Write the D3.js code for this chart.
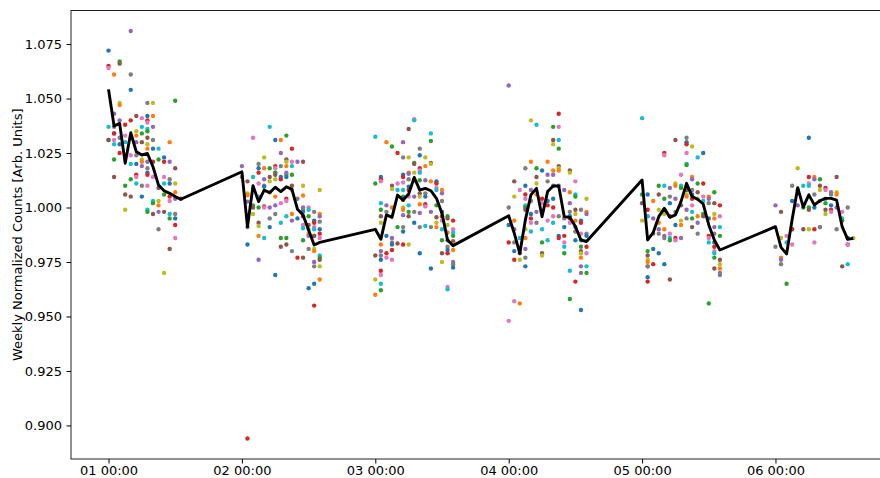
<!DOCTYPE html>
<html>
<head>
<meta charset="utf-8">
<script src="https://cdn.jsdelivr.net/npm/d3@7"></script>
<style>
  body { margin: 0; background: #fff; }
  svg text { font-family: "DejaVu Sans", sans-serif; }
</style>
</head>
<body>
<div id="chart"></div>
<script>
// ---------- data ---------- //
var days = [1, 2, 3, 4, 5, 6];
var hours = [0, 1, 2, 3, 4, 5, 6, 7, 8, 9, 10, 11, 12, 13, 14];
var yTicks = [0.900, 0.925, 0.950, 0.975, 1.000, 1.025, 1.050, 1.075];

// black line: mean per hour, one list per day
var meanDay1 = [1.0542, 1.0374, 1.0386, 1.0203, 1.0343, 1.0256, 1.0241, 1.0248, 1.0187, 1.0103, 1.0077, 1.0065, 1.0050, 1.0038];
var meanDay2 = [1.0164, 0.9912, 1.0100, 1.0027, 1.0080, 1.0068, 1.0093, 1.0073, 1.0095, 1.0083, 0.9992, 0.9966, 0.9897, 0.9828, 0.9840];
var meanDay3 = [0.9900, 0.9854, 0.9966, 0.9955, 1.0057, 1.0034, 1.0062, 1.0138, 1.0080, 1.0088, 1.0077, 1.0042, 0.9973, 0.9851, 0.9825];
var meanDay4 = [0.9962, 0.9882, 0.9790, 0.9943, 1.0058, 1.0088, 0.9958, 1.0073, 1.0099, 1.0099, 0.9958, 0.9955, 0.9913, 0.9851, 0.9844];
var meanDay5 = [1.0126, 0.9851, 0.9885, 0.9958, 0.9996, 0.9955, 0.9966, 1.0027, 1.0111, 1.0050, 1.0038, 1.0016, 0.9920, 0.9851, 0.9805];
var meanDay6 = [0.9912, 0.9817, 0.9787, 0.9945, 1.0091, 1.0002, 1.0058, 1.0012, 1.0031, 1.0042, 1.0042, 1.0034, 0.9912, 0.9854, 0.9859];

// weekly points: one list per hour, per day
var weeksDay1 = [
  [1.072, 1.065, 1.064, 1.037, 1.031, 1.031],
  [1.061, 1.043, 1.037, 1.034, 1.034, 1.031, 1.029, 1.022, 1.014],
  [1.067, 1.066, 1.048, 1.047, 1.040, 1.032, 1.029, 1.025],
  [1.038, 1.033, 1.030, 1.010, 1.006, 0.999],
  [1.081, 1.061, 1.054, 1.040, 1.024, 1.020, 1.013, 1.005],
  [1.042, 1.035, 1.033, 1.030, 1.024, 1.020, 1.015, 1.014, 1.011],
  [1.041, 1.037, 1.034, 1.030, 1.022, 1.021, 1.019, 1.010, 1.005],
  [1.048, 1.042, 1.040, 1.039, 1.036, 1.035, 1.032, 1.029, 1.027, 1.021, 1.018, 1.016, 1.015, 1.010, 0.999, 0.998],
  [1.048, 1.042, 1.037, 1.031, 1.027, 1.021, 1.014, 1.003, 1.002, 0.997],
  [1.027, 1.022, 1.009, 1.003, 1.001, 0.998, 0.990],
  [1.023, 1.021, 1.014, 1.011, 1.006, 0.998, 0.970],
  [1.030, 1.021, 1.013, 1.011, 1.005, 1.003, 0.997, 0.995, 0.981],
  [1.049, 1.018, 1.011, 1.007, 1.004, 0.997, 0.995, 0.992, 0.986],
  [1.004]
];
var weeksDay2 = [
  [1.019, 1.014],
  [1.012, 1.0065, 1.0056, 1.0027, 0.991, 0.983, 0.894],
  [1.032, 1.014, 1.001, 1.000, 0.997],
  [1.020, 1.018, 1.016, 1.011, 1.005, 1.000, 0.993, 0.9915, 0.987, 0.976],
  [1.023, 1.018, 1.013, 1.010, 1.0096, 1.0005, 1.000, 0.986],
  [1.037, 1.018, 1.014, 1.012, 1.007, 1.000, 0.995, 0.991],
  [1.031, 1.019, 1.018, 1.016, 1.016, 1.015, 1.013, 1.005, 1.001, 0.997, 0.969],
  [1.031, 1.025, 1.019, 1.014, 1.013, 1.002, 0.993, 0.986, 0.982],
  [1.033, 1.022, 1.021, 1.019, 1.016, 1.015, 1.014, 1.004, 1.003, 0.996, 0.986, 0.983],
  [1.027, 1.021, 1.019, 1.015, 1.010, 1.008, 0.997, 0.994, 0.980],
  [1.021, 1.004, 0.995, 0.977],
  [1.021, 1.010, 1.0055, 1.000, 0.999, 0.998, 0.996, 0.992, 0.9905, 0.985, 0.977],
  [1.000, 0.999, 0.996, 0.992, 0.990, 0.988, 0.987, 0.981, 0.963],
  [0.998, 0.994, 0.993, 0.991, 0.990, 0.987, 0.987, 0.981, 0.980, 0.975, 0.973, 0.965, 0.955],
  [1.008, 0.997, 0.996, 0.9935, 0.990, 0.988, 0.986, 0.978, 0.977, 0.976, 0.973, 0.967]
];
var weeksDay3 = [
  [1.0325, 1.011, 0.978, 0.967, 0.960],
  [1.014, 1.013, 1.012, 1.002, 0.999, 0.996, 0.993, 0.983, 0.980, 0.978, 0.976, 0.971, 0.969, 0.965, 0.962],
  [1.030, 1.001, 0.998, 0.987, 0.979, 0.977],
  [1.028, 1.010, 1.0085, 1.000, 0.986, 0.984, 0.983, 0.9805, 0.976],
  [1.025, 1.011, 1.008, 0.991, 0.9835],
  [1.030, 1.023, 1.015, 1.014, 1.0115, 1.008, 1.005, 1.0035, 1.000, 0.999, 0.9965, 0.991, 0.989, 0.983],
  [1.036, 1.023, 1.016, 1.0155, 1.013, 1.0095, 1.008, 1.005, 1.001, 0.998, 0.996, 0.983],
  [1.0405, 1.040, 1.0205, 1.020, 1.016, 1.0125, 1.005, 0.998, 0.993],
  [1.027, 1.024, 1.018, 1.017, 1.016, 1.0125, 1.0065, 1.005, 1.0015, 0.9975, 0.991, 0.979],
  [1.023, 1.019, 1.0125, 1.0065, 1.005, 1.0015, 1.0005, 0.9915],
  [1.034, 1.0305, 1.0205, 1.020, 1.012, 0.998, 0.991, 0.972],
  [1.012, 1.011, 1.009, 1.008, 1.001, 0.9955, 0.993, 0.991],
  [1.008, 1.0065, 1.003, 0.998, 0.996, 0.994, 0.990, 0.985, 0.979, 0.975],
  [0.996, 0.995, 0.992, 0.9885, 0.985, 0.982, 0.9805, 0.979, 0.9635, 0.9625],
  [0.994, 0.990, 0.9885, 0.987, 0.9845, 0.983, 0.9805, 0.975, 0.974, 0.9725]
];
var weeksDay4 = [
  [1.056, 1.000, 0.992, 0.984, 0.948],
  [1.012, 1.005, 0.994, 0.990, 0.984, 0.980, 0.976, 0.957],
  [1.008, 0.986, 0.981, 0.979, 0.976, 0.956],
  [1.018, 1.010, 1.006, 1.004, 1.001, 1.000, 0.999, 0.990, 0.986, 0.981, 0.977, 0.973],
  [1.040, 1.021, 1.008, 1.003, 0.997, 0.995, 0.993, 0.989],
  [1.038, 1.018, 1.014, 1.011, 1.006, 0.998, 0.993],
  [1.017, 1.004, 1.002, 0.990, 0.984, 0.979, 0.978],
  [1.021, 1.015, 1.012, 1.003, 1.001, 0.994, 0.985],
  [1.037, 1.031, 1.029, 1.017, 1.015, 1.010, 1.004, 1.000, 0.996, 0.993],
  [1.043, 1.037, 1.031, 1.027, 1.019, 1.018, 1.017, 1.010, 0.996, 0.987, 0.986],
  [1.008, 0.995, 0.991, 0.987, 0.984, 0.982, 0.979],
  [1.017, 1.016, 1.007, 1.002, 0.998, 0.996, 0.995, 0.993, 0.971, 0.958],
  [1.012, 1.006, 1.005, 0.999, 0.997, 0.994, 0.991, 0.989, 0.985, 0.966],
  [0.999, 0.994, 0.993, 0.988, 0.985, 0.982, 0.980, 0.979, 0.977, 0.973, 0.970, 0.953],
  [1.004, 0.998, 0.997, 0.988, 0.987, 0.982, 0.979, 0.973, 0.970]
];
var weeksDay5 = [
  [1.041, 1.006, 1.002, 0.994],
  [1.006, 0.999, 0.996, 0.996, 0.980, 0.978, 0.976, 0.975, 0.973, 0.973, 0.968, 0.966],
  [1.003, 0.995, 0.988, 0.981, 0.974],
  [1.010, 1.006, 0.999, 0.993, 0.990, 0.988, 0.979],
  [1.025, 1.024, 1.010, 1.004, 0.999, 0.997, 0.990, 0.987, 0.986, 0.974],
  [1.009, 1.005, 1.002, 0.996, 0.988, 0.986, 0.985, 0.967],
  [1.031, 1.011, 1.010, 1.004, 0.998, 0.992, 0.986, 0.985],
  [1.015, 1.010, 1.009, 1.001, 0.994, 0.992, 0.986],
  [1.032, 1.030, 1.029, 1.025, 1.020, 1.0195, 1.008, 1.006, 1.005, 0.999, 0.995],
  [1.028, 1.014, 1.013, 1.008, 1.006, 1.004, 1.001, 0.998, 0.995, 0.991],
  [1.023, 1.011, 1.007, 1.004, 0.996, 0.993, 0.988],
  [1.025, 1.011, 1.005, 1.003, 0.997, 0.996],
  [1.005, 1.004, 1.002, 0.995, 0.987, 0.986, 0.984, 0.956],
  [1.007, 1.002, 0.997, 0.995, 0.991, 0.988, 0.984, 0.982, 0.980, 0.979, 0.977, 0.972],
  [1.001, 0.996, 0.991, 0.987, 0.976, 0.974, 0.972, 0.970, 0.969]
];
var weeksDay6 = [
  [1.001, 0.982],
  [0.998, 0.986, 0.977, 0.976, 0.974],
  [0.987, 0.984, 0.965],
  [1.010, 1.003, 0.990, 0.983],
  [1.018, 1.008, 1.001],
  [1.010, 1.000, 0.990],
  [1.032, 1.014, 1.011, 1.010, 1.000, 0.999, 0.990],
  [1.014, 1.013, 1.006, 1.000, 0.990, 0.984],
  [1.013, 1.010, 1.008, 1.003, 0.991, 0.991],
  [1.009, 1.008, 1.004, 1.002, 0.999, 0.997],
  [1.007, 1.006, 1.001, 0.999, 0.998],
  [1.014, 1.007, 1.006, 1.000, 0.990],
  [0.998, 0.995, 0.994, 0.973],
  [1.000, 0.986, 0.983, 0.983, 0.974],
  [0.986]
];

var means = [meanDay1, meanDay2, meanDay3, meanDay4, meanDay5, meanDay6];
var weeks = [weeksDay1, weeksDay2, weeksDay3, weeksDay4, weeksDay5, weeksDay6];

// ---------- chart ---------- //
var width = 880;
var height = 478;
var margin = { top: 10.5, left: 71, bottom: 459, right: 890.8 };

var stamp = function(day, hour) { return new Date(Date.UTC(2021, 0, day, hour)); };

var x = d3.scaleUtc()
  .domain([new Date(Date.UTC(2021, 0, 1, 0) - 6.75 * 3600e3), new Date(Date.UTC(2021, 0, 6, 20, 45))])
  .range([margin.left, margin.right]);

var y = d3.scaleLinear()
  .domain([0.8846, 1.0904])
  .range([margin.bottom, margin.top]);

var colors = d3.schemeCategory10;

var points = [];
var linePts = [];
var col = 0;
days.forEach(function(day, di) {
  weeks[di].forEach(function(vals, hi) {
    vals.forEach(function(v, i) {
      points.push({ t: stamp(day, hours[hi]), v: v, c: colors[(i * 3 + col) % 10] });
    });
    col++;
  });
  means[di].forEach(function(v, hi) {
    linePts.push({ t: stamp(day, hours[hi]), v: v });
  });
});

var svg = d3.select("#chart").append("svg")
  .attr("width", width)
  .attr("height", height);

svg.append("g")
  .selectAll("circle")
  .data(points)
  .join("circle")
  .attr("cx", d => x(d.t))
  .attr("cy", d => y(d.v))
  .attr("r", 2.2)
  .attr("fill", d => d.c);

svg.append("path")
  .datum(linePts)
  .attr("fill", "none")
  .attr("stroke", "#000")
  .attr("stroke-width", 2.9)
  .attr("stroke-linejoin", "round")
  .attr("d", d3.line().x(d => x(d.t)).y(d => y(d.v)));

// frame
svg.append("rect")
  .attr("x", margin.left)
  .attr("y", margin.top)
  .attr("width", margin.right - margin.left)
  .attr("height", margin.bottom - margin.top)
  .attr("fill", "none")
  .attr("stroke", "#222")
  .attr("stroke-width", 1);

var yAxis = svg.append("g")
  .attr("transform", `translate(${margin.left},0)`)
  .call(d3.axisLeft(y).tickValues(yTicks).tickFormat(d3.format(".3f")).tickSize(4.5).tickPadding(4.5));

var xAxis = svg.append("g")
  .attr("transform", `translate(0,${margin.bottom})`)
  .call(d3.axisBottom(x).ticks(d3.utcDay.every(1)).tickFormat(d3.utcFormat("%d %H:%M")).tickSize(4.5).tickPadding(1.8));

[xAxis, yAxis].forEach(function(g) {
  g.select(".domain").remove();
  g.selectAll(".tick line").attr("stroke", "#000").attr("stroke-width", 1);
  g.selectAll(".tick text").attr("fill", "#000").attr("font-size", 13).attr("font-family", "DejaVu Sans");
});

svg.append("text")
  .attr("transform", `translate(22,${(margin.top + margin.bottom) / 2}) rotate(-90)`)
  .attr("text-anchor", "middle")
  .attr("font-size", 13)
  .attr("fill", "#000")
  .text("Weekly Normalized Counts [Arb. Units]");
</script>
</body>
</html>
